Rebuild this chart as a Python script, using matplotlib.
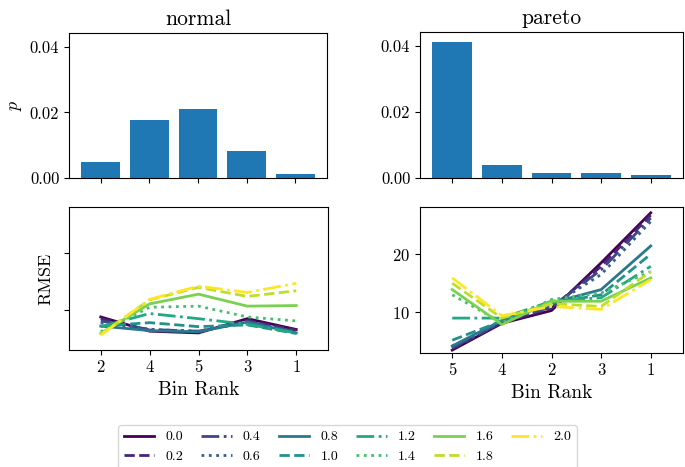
import matplotlib
matplotlib.use("Agg")
import matplotlib.pyplot as plt
import numpy as np

plt.rcParams['font.family'] = ['cmr10', 'DejaVu Serif']
plt.rcParams['mathtext.fontset'] = 'cm'
plt.rcParams['axes.formatter.use_mathtext'] = True

normal_ranks = ['2', '4', '5', '3', '1']
pareto_ranks = ['5', '4', '2', '3', '1']
normal_p = [0.0048, 0.0178, 0.0210, 0.0082, 0.0013]
pareto_p = [0.0412, 0.0039, 0.0014, 0.0014, 0.0010]

labels = ['0.0', '0.2', '0.4', '0.6', '0.8', '1.0', '1.2', '1.4', '1.6', '1.8', '2.0']

normal_rmse = [
    [8.8, 6.3, 6.0, 8.5, 6.6],
    [8.5, 6.5, 6.2, 8.2, 6.5],
    [8.1, 6.6, 6.3, 8.0, 6.2],
    [7.8, 6.6, 6.3, 7.8, 6.0],
    [7.2, 6.4, 6.2, 7.9, 6.0],
    [7.2, 7.8, 7.1, 7.4, 5.9],
    [7.1, 9.4, 8.5, 7.5, 6.0],
    [6.2, 10.5, 10.7, 8.8, 8.1],
    [5.9, 11.1, 12.8, 10.7, 10.8],
    [5.8, 11.8, 14.0, 12.4, 13.4],
    [5.6, 11.9, 14.2, 13.1, 14.7],
]

pareto_rmse = [
    [3.5, 8.1, 10.3, 18.5, 27.1],
    [3.7, 8.2, 10.7, 17.9, 26.7],
    [3.9, 8.3, 10.9, 17.3, 26.2],
    [4.2, 8.4, 11.1, 16.5, 25.6],
    [4.2, 8.6, 11.6, 13.9, 21.4],
    [5.2, 8.5, 11.6, 13.0, 20.0],
    [9.0, 9.0, 11.9, 12.5, 17.9],
    [13.0, 8.2, 12.2, 13.3, 17.0],
    [13.9, 7.9, 11.9, 11.9, 15.9],
    [15.0, 9.0, 11.5, 11.0, 17.0],
    [15.9, 9.4, 11.0, 10.5, 15.6],
]

styles = ['-', '--', '-.', ':']
colors = plt.cm.viridis(np.linspace(0, 1, len(labels)))

W, H = 685, 467
fig = plt.figure(figsize=(W / 100, H / 100), dpi=100)

def box(l, r, t, b):
    return [l / W, (H - b) / H, (r - l) / W, (b - t) / H]

ax_tl = fig.add_axes(box(69, 327, 33, 178))
ax_tr = fig.add_axes(box(420, 683, 32, 178))
ax_bl = fig.add_axes(box(69, 328, 207, 350))
ax_br = fig.add_axes(box(420, 683, 207, 353))

x = np.arange(5)
for ax, vals, title in [(ax_tl, normal_p, 'normal'), (ax_tr, pareto_p, 'pareto')]:
    ax.bar(x, vals, width=0.8, color='#1f77b4')
    ax.set_ylim(0, 0.0442)
    ax.set_xlim(-0.65, 4.65)
    ax.set_xticks(x)
    ax.set_xticklabels([])
    ax.set_yticks([0, 0.02, 0.04])
    ax.set_yticklabels(['0.00', '0.02', '0.04'])
    ax.set_title(title, fontsize=15.5)
    ax.tick_params(labelsize=12)
ax_tl.set_ylabel('$p$', fontsize=13)

lines = []
for ax, data, ranks in [(ax_bl, normal_rmse, normal_ranks), (ax_br, pareto_rmse, pareto_ranks)]:
    for i, (lab, row) in enumerate(zip(labels, data)):
        ln, = ax.plot(x, row, linestyle=styles[i % 4], color=colors[i], lw=2, label=lab)
        if ax is ax_bl:
            lines.append(ln)
    ax.set_xlim(-0.65, 4.65)
    ax.set_ylim(3, 28.1)
    ax.set_xticks(x)
    ax.set_xticklabels(ranks)
    ax.set_yticks([10, 20])
    ax.set_xlabel('Bin Rank', fontsize=14)
    ax.tick_params(labelsize=12)
ax_bl.set_ylabel('RMSE', fontsize=13)
ax_bl.set_yticklabels([])

fig.legend(handles=lines, labels=labels, loc='center', bbox_to_anchor=(0.507, 0.043),
           ncol=6, fontsize=10, frameon=True, columnspacing=1.3, handlelength=2.2)

fig.savefig('out.png', dpi=100)
